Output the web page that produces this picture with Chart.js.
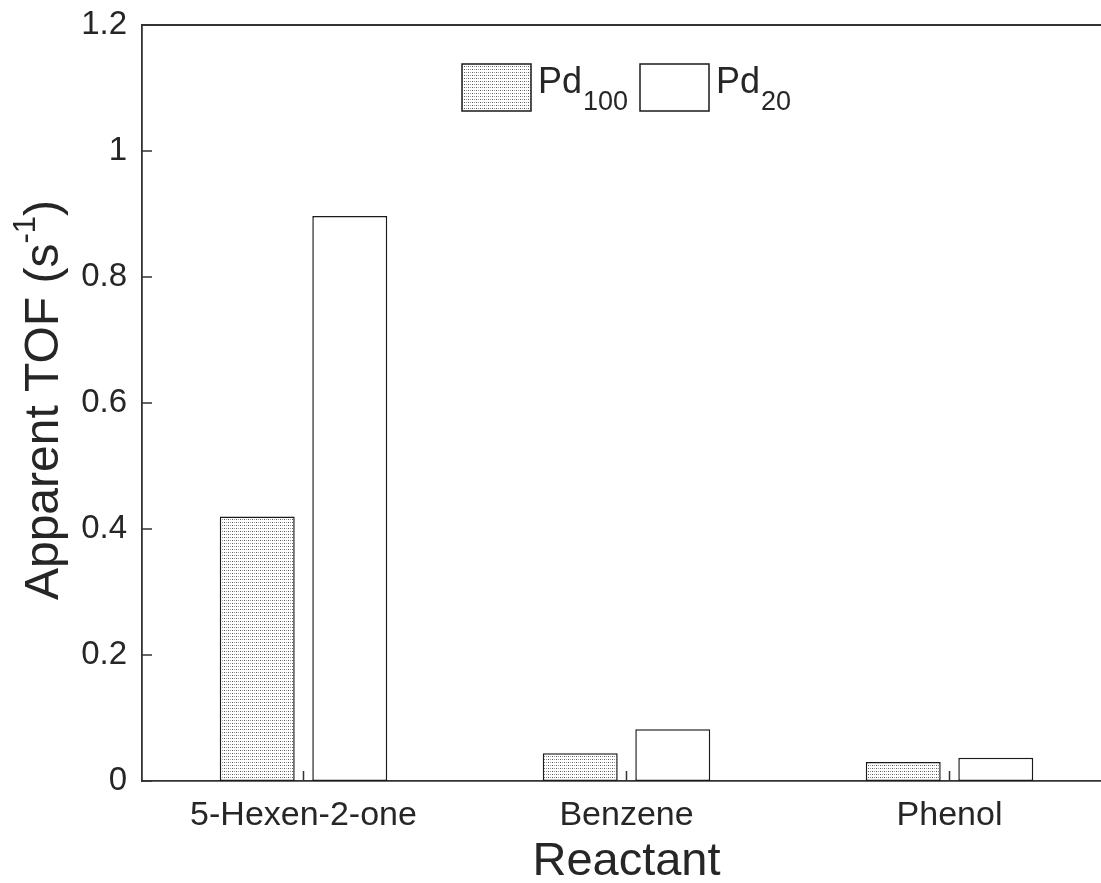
<!DOCTYPE html>
<html><head><meta charset="utf-8">
<script src="https://cdn.jsdelivr.net/npm/chart.js@4.4.1/dist/chart.umd.min.js"></script>
<style>
html,body{margin:0;padding:0;overflow:hidden;background:#fff;width:1101px;height:883px}
#wrap{position:absolute;left:0;top:0;width:1125px;height:883px}
</style></head><body>
<div id="wrap"><canvas id="c" width="1125" height="883"></canvas></div>
<script>
// ---- data ----
const categories = ['5-Hexen-2-one', 'Benzene', 'Phenol'];
const pd100 = [0.42, 0.044, 0.030];
const pd20 = [0.897, 0.082, 0.037];
const seriesBase = ['Pd', 'Pd'];
const seriesSub = ['100', '20'];
const yTicks = [0, 0.2, 0.4, 0.6, 0.8, 1, 1.2];
const xTitle = 'Reactant';
const yTitleMain = 'Apparent TOF (s';
const yTitleSup = '-1';
const yTitleEnd = ')';

// ---- styles ----
const FONT = "'Liberation Sans', Arial, Helvetica, sans-serif";
const INK = '#262626';
const AXIS = '#333333';

function dotPattern() {
  const t = document.createElement('canvas');
  t.width = 4; t.height = 3;
  const g = t.getContext('2d');
  g.fillStyle = '#ffffff'; g.fillRect(0, 0, 4, 3);
  g.fillStyle = '#5a5a5a'; g.fillRect(0, 0, 1, 1);
  g.fillStyle = '#9a9a9a'; g.fillRect(2, 0, 1, 1);
  return document.getElementById('c').getContext('2d').createPattern(t, 'repeat');
}
const pat = dotPattern();

const decorPlugin = {
  id: 'decor',
  afterDraw(chart) {
    const ctx = chart.ctx, a = chart.chartArea;
    const xs = chart.scales.x, ys = chart.scales.y;
    ctx.save();
    ctx.strokeStyle = AXIS; ctx.lineWidth = 1.8;
    // top and right box lines
    ctx.beginPath();
    ctx.moveTo(a.left, a.top); ctx.lineTo(a.right, a.top);
    ctx.lineTo(a.right, a.bottom);
    ctx.stroke();
    // inward ticks
    ctx.lineWidth = 1.5;
    ctx.beginPath();
    ys.ticks.forEach(t => {
      const y = ys.getPixelForValue(t.value);
      ctx.moveTo(a.left, y); ctx.lineTo(a.left + 10, y);
    });
    categories.forEach((c, i) => {
      const x = xs.getPixelForValue(i);
      ctx.moveTo(x, a.bottom); ctx.lineTo(x, a.bottom - 10);
    });
    ctx.stroke();

    // y title with superscript
    ctx.fillStyle = INK;
    const mainF = '48px ' + FONT, supF = '31px ' + FONT;
    ctx.font = mainF; const w1 = ctx.measureText(yTitleMain).width; const w3 = ctx.measureText(yTitleEnd).width;
    ctx.font = supF; const w2 = ctx.measureText(yTitleSup).width;
    const total = w1 + w2 + w3;
    ctx.translate(58, (a.top + a.bottom) / 2 - 3);
    ctx.rotate(-Math.PI / 2);
    ctx.textBaseline = 'alphabetic'; ctx.textAlign = 'left';
    let x0 = -total / 2;
    ctx.font = mainF; ctx.fillText(yTitleMain, x0, 0); x0 += w1;
    ctx.font = supF; ctx.fillText(yTitleSup, x0, -23); x0 += w2;
    ctx.font = mainF; ctx.fillText(yTitleEnd, x0, 0);
    ctx.restore();

    // legend
    ctx.save();
    const boxes = [{x: 462, y: 64}, {x: 640, y: 64}];
    chart.data.datasets.forEach((ds, i) => {
      const b = boxes[i];
      ctx.fillStyle = ds.backgroundColor;
      ctx.fillRect(b.x, b.y, 69, 47);
      ctx.strokeStyle = ds.borderColor; ctx.lineWidth = 1.5;
      ctx.strokeRect(b.x, b.y, 69, 47);
      ctx.fillStyle = INK; ctx.textBaseline = 'alphabetic'; ctx.textAlign = 'left';
      ctx.font = '36px ' + FONT;
      const tx = b.x + 76;
      ctx.fillText(seriesBase[i], tx, 93);
      const pw = ctx.measureText(seriesBase[i]).width;
      ctx.font = '27px ' + FONT;
      ctx.fillText(seriesSub[i], tx + pw + 1, 110);
    });
    ctx.restore();
  }
};

const barStyle = {borderColor: '#1a1a1a', borderWidth: 1.5, borderSkipped: false,
  categoryPercentage: 0.573, barPercentage: 0.81};

new Chart(document.getElementById('c'), {
  type: 'bar',
  data: {
    labels: categories,
    datasets: [
      Object.assign({label: seriesBase[0] + seriesSub[0], data: pd100, backgroundColor: pat}, barStyle),
      Object.assign({label: seriesBase[1] + seriesSub[1], data: pd20, backgroundColor: '#ffffff'}, barStyle)
    ]
  },
  options: {
    responsive: false,
    animation: false,
    devicePixelRatio: 1,
    layout: {padding: {left: 0, right: 14, top: 25, bottom: 0}},
    plugins: {legend: {display: false}, tooltip: {enabled: false}, title: {display: false}},
    scales: {
      x: {
        type: 'category',
        offset: true,
        grid: {display: false, drawTicks: false},
        border: {display: true, color: AXIS, width: 1.8},
        ticks: {color: INK, font: {family: FONT, size: 34}, padding: 14, maxRotation: 0, autoSkip: false},
        title: {display: true, text: xTitle, color: INK, font: {family: FONT, size: 47, lineHeight: 0.8}, padding: {top: 0, bottom: 2}},
        afterFit(s) { s.height = 102; s.paddingLeft = 0; s.paddingRight = 0; }
      },
      y: {
        min: yTicks[0], max: yTicks[yTicks.length - 1],
        grid: {display: false, drawTicks: false},
        border: {display: true, color: AXIS, width: 1.8},
        afterBuildTicks(s) { s.ticks = yTicks.map(v => ({value: v})); },
        ticks: {color: INK, font: {family: FONT, size: 33}, padding: 15,
          callback: v => String(+Number(v).toFixed(1))},
        afterFit(s) { s.width = 142; s.paddingTop = 0; s.paddingBottom = 0; }
      }
    }
  },
  plugins: [decorPlugin]
});
</script>
</body></html>
